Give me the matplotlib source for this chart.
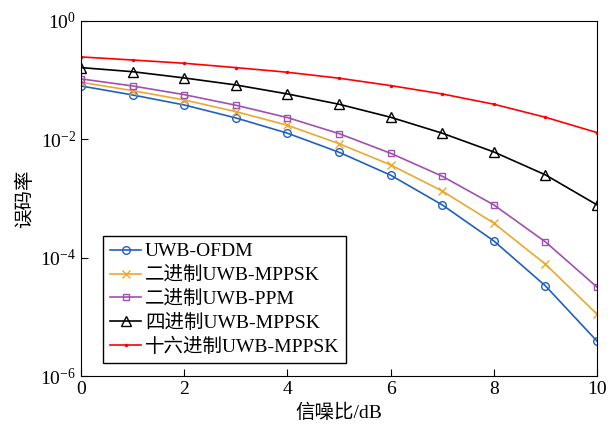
import matplotlib.pyplot as plt
import numpy as np

plt.rcParams['font.family'] = ['Liberation Serif', 'Noto Sans CJK SC']
plt.rcParams['mathtext.fontset'] = 'stix'

snr = np.arange(0, 11)

ber_ofdm = [0.0798, 0.0562, 0.0381, 0.023, 0.0127, 0.00605, 0.00248, 0.00078, 1.92e-4, 3.34e-5, 3.89e-6]
ber_mppsk2 = [0.0922, 0.0665, 0.0463, 0.0294, 0.0173, 0.00846, 0.0037, 0.00134, 3.83e-4, 7.77e-5, 1.11e-5]
ber_ppm2 = [0.105, 0.0798, 0.0569, 0.0377, 0.0233, 0.0125, 0.00582, 0.00238, 7.8e-4, 1.85e-4, 3.18e-5]
ber_mppsk4 = [0.163, 0.139, 0.109, 0.083, 0.0585, 0.0392, 0.0236, 0.0127, 0.00612, 0.00251, 7.8e-4]
ber_mppsk16 = [0.247, 0.219, 0.193, 0.163, 0.136, 0.108, 0.081, 0.0585, 0.0392, 0.0236, 0.0130]

labels = ['UWB-OFDM', '二进制UWB-MPPSK', '二进制UWB-PPM', '四进制UWB-MPPSK', '十六进制UWB-MPPSK']

fig = plt.figure(figsize=(6.1, 4.24), dpi=100)
ax = fig.add_axes([0.1328, 0.1132, 0.8459, 0.8373])

ax.semilogy(snr, ber_ofdm, '-o', color='#2060c0', mfc='none', ms=5.5, lw=1.2, label=labels[0])
ax.semilogy(snr, ber_mppsk2, '-x', color='#eaa830', ms=6, lw=1.2, label=labels[1])
ax.semilogy(snr, ber_ppm2, '-s', color='#a050b0', mfc='none', ms=5, lw=1.2, label=labels[2])
ax.semilogy(snr, ber_mppsk4, '-^', color='black', mfc='none', ms=6.5, lw=1.2, label=labels[3])
ax.semilogy(snr, ber_mppsk16, color='#ff0000', marker='.', ls='-', ms=3, lw=1.2, label=labels[4])

ax.set_xlim(0, 10)
ax.set_ylim(1e-6, 1)
ax.set_xticks([0, 2, 4, 6, 8, 10])
ax.set_yticks([1e-6, 1e-4, 1e-2, 1])
ax.yaxis.set_minor_locator(plt.NullLocator())
ax.tick_params(direction='in', labelsize=14, length=5)

ax.set_xlabel('信噪比/dB', fontsize=14)
ax.set_ylabel('误码率', fontsize=14)

ax.legend(loc='lower left', bbox_to_anchor=(0.043, 0.037), borderaxespad=0,
          fontsize=14, fancybox=False, edgecolor='black', framealpha=1,
          handlelength=1.6, handletextpad=0.2, labelspacing=0.3, borderpad=0.35)

fig.savefig('out.png', dpi=100)
